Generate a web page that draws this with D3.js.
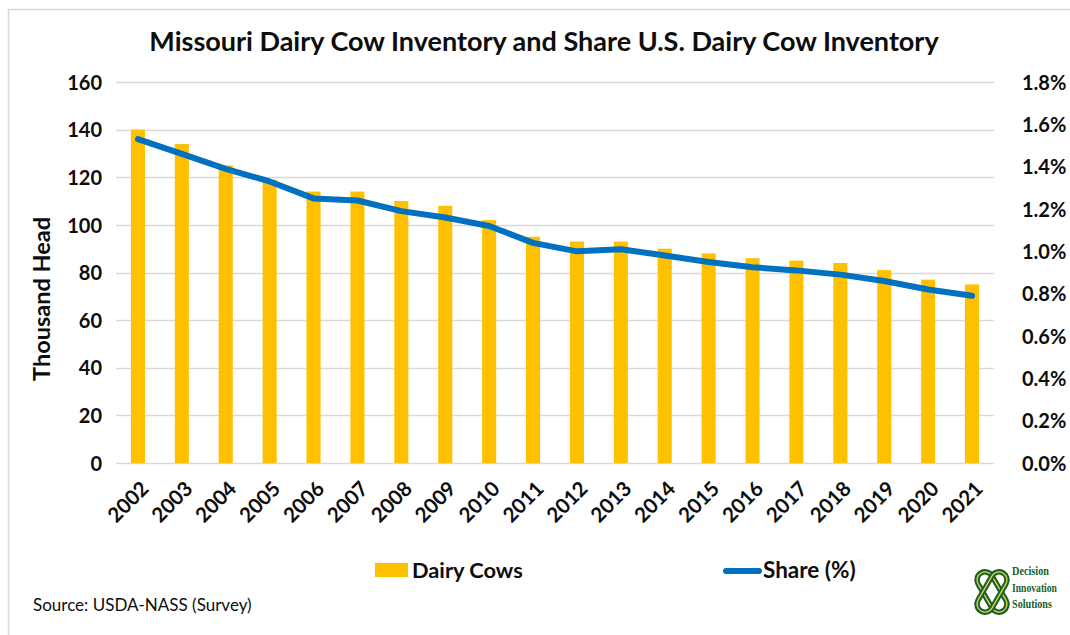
<!DOCTYPE html>
<html>
<head>
<meta charset="utf-8">
<script src="https://cdn.jsdelivr.net/npm/d3@7"></script>
<style>
  html, body { margin: 0; padding: 0; background: #fff; }
  svg { display: block; }
  text { font-family: Lato, "Open Sans", sans-serif; fill: #0d0d0d; }
</style>
</head>
<body>
<svg id="chart" width="1070" height="635"></svg>
<script>
const years = ["2002","2003","2004","2005","2006","2007","2008","2009","2010","2011","2012","2013","2014","2015","2016","2017","2018","2019","2020","2021"];
const dairyCows = [140,134,125,119,114,114,110,108,102,95,93,93,90,88,86,85,84,81,77,75];
const sharePct = [1.53,1.46,1.39,1.33,1.25,1.24,1.19,1.16,1.12,1.04,1.00,1.01,0.98,0.95,0.925,0.91,0.89,0.86,0.82,0.79];
const leftTicks = [0,20,40,60,80,100,120,140,160];
const rightTicks = [0,0.2,0.4,0.6,0.8,1.0,1.2,1.4,1.6,1.8];
const titleText = "Missouri Dairy Cow Inventory and Share U.S. Dairy Cow Inventory";
const yTitle = "Thousand Head";
const legendLabels = ["Dairy Cows", "Share (%)"];
const sourceText = "Source: USDA-NASS (Survey)";
const logoLines = ["Decision", "Innovation", "Solutions"];

const svg = d3.select("#chart");
const M = {left: 116, right: 994, top: 82, bottom: 463};

// outer border
svg.append("rect").attr("x", 8.5).attr("y", 9.5).attr("width", 1080).attr("height", 640)
  .attr("fill", "none").attr("stroke", "#d9d9d9").attr("stroke-width", 1.5);

const x = d3.scaleBand().domain(years).range([M.left, M.right]).paddingInner(0.68).paddingOuter(0.34);
const yL = d3.scaleLinear().domain([0,160]).range([M.bottom, M.top]);
const yR = d3.scaleLinear().domain([0,1.8]).range([M.bottom, M.top]);

// gridlines
svg.append("g").selectAll("line").data(leftTicks).join("line")
  .attr("x1", M.left).attr("x2", M.right)
  .attr("y1", d => Math.round(yL(d)) + 0.5).attr("y2", d => Math.round(yL(d)) + 0.5)
  .attr("stroke", "#d9d9d9").attr("stroke-width", 1.5);

// bars
svg.append("g").selectAll("rect").data(dairyCows).join("rect")
  .attr("x", (d,i) => x(years[i]))
  .attr("width", x.bandwidth())
  .attr("y", d => yL(d))
  .attr("height", d => yL(0) - yL(d))
  .attr("fill", "#FFC000");

// line
const line = d3.line().x((d,i) => x(years[i]) + x.bandwidth()/2).y(d => yR(d));
svg.append("path").datum(sharePct).attr("d", line)
  .attr("fill", "none").attr("stroke", "#0070C0").attr("stroke-width", 6)
  .attr("stroke-linejoin", "round").attr("stroke-linecap", "round");

// left axis
const axL = svg.append("g").attr("transform", `translate(${M.left},0)`)
  .call(d3.axisLeft(yL).tickValues(leftTicks).tickSize(0).tickPadding(14));
axL.select(".domain").remove();
axL.selectAll("text").attr("font-size", 20).attr("font-weight", 700)
  .style("font-family", "Lato, sans-serif").attr("fill", "#0d0d0d").attr("dy", "0.36em");

// right axis
const axR = svg.append("g").attr("transform", `translate(${M.right},0)`)
  .call(d3.axisRight(yR).tickValues(rightTicks).tickSize(0).tickPadding(28).tickFormat(d => d.toFixed(1) + "%"));
axR.select(".domain").remove();
axR.selectAll("text").attr("font-size", 20).attr("font-weight", 700)
  .style("font-family", "Lato, sans-serif").attr("fill", "#0d0d0d").attr("dy", "0.36em");

// x axis labels
const axX = svg.append("g").attr("transform", `translate(0,${M.bottom})`)
  .call(d3.axisBottom(x).tickSize(0).tickPadding(0));
axX.select(".domain").remove();
axX.selectAll("text")
  .attr("font-size", 20.5).attr("font-weight", 700)
  .style("font-family", "Lato, sans-serif").attr("fill", "#0d0d0d")
  .attr("text-anchor", "end")
  .attr("dy", 0).attr("y", 0)
  .attr("transform", "translate(12,27) rotate(-45)");

// title
svg.append("text").attr("x", 544).attr("y", 51).attr("text-anchor", "middle")
  .attr("font-size", 27).attr("font-weight", 700).text(titleText);

// y title
svg.append("text").attr("transform", "translate(50,299) rotate(-90)").attr("text-anchor", "middle")
  .attr("font-size", 23.5).attr("font-weight", 700).text(yTitle);

// legend
svg.append("rect").attr("x", 375).attr("y", 563).attr("width", 33).attr("height", 14).attr("fill", "#FFC000");
svg.append("text").attr("x", 412).attr("y", 578).attr("font-size", 21.8).attr("font-weight", 700).text(legendLabels[0]);
svg.append("line").attr("x1", 726).attr("x2", 759).attr("y1", 571).attr("y2", 571)
  .attr("stroke", "#0070C0").attr("stroke-width", 6).attr("stroke-linecap", "round");
svg.append("text").attr("x", 763).attr("y", 578).attr("font-size", 22.5).attr("font-weight", 700).text(legendLabels[1]);

// source
svg.append("text").attr("x", 33).attr("y", 611).attr("font-size", 17).attr("font-weight", 400).text(sourceText);

// logo
const logo = svg.append("g").attr("transform", "translate(992,592)");
[-1, 1].forEach(s => {
  logo.append("rect").attr("x", -8).attr("y", -22).attr("width", 16).attr("height", 44).attr("rx", 8)
    .attr("transform", `rotate(${s*30})`)
    .attr("fill", "none").attr("stroke", "#17602a").attr("stroke-width", 5.5);
  logo.append("rect").attr("x", -8).attr("y", -22).attr("width", 16).attr("height", 44).attr("rx", 8)
    .attr("transform", `rotate(${s*30})`)
    .attr("fill", "none").attr("stroke", "#e6d54a").attr("stroke-width", 1.3);
});
const logoWidths = [37, 45, 40];
logoLines.forEach((t,i) => {
  const g = svg.append("g");
  const txt = g.append("text").attr("x", 0).attr("y", 0)
    .style("font-family", "'Liberation Serif', 'DejaVu Serif', serif")
    .attr("font-size", 13).attr("font-weight", 700).style("fill", "#17602a")
    .text(t);
  const len = txt.node().getComputedTextLength() || logoWidths[i];
  const sx = logoWidths[i] / len;
  g.attr("transform", `translate(1012,${575 + i*16.5}) scale(${sx},1)`);
});
</script>
</body>
</html>
